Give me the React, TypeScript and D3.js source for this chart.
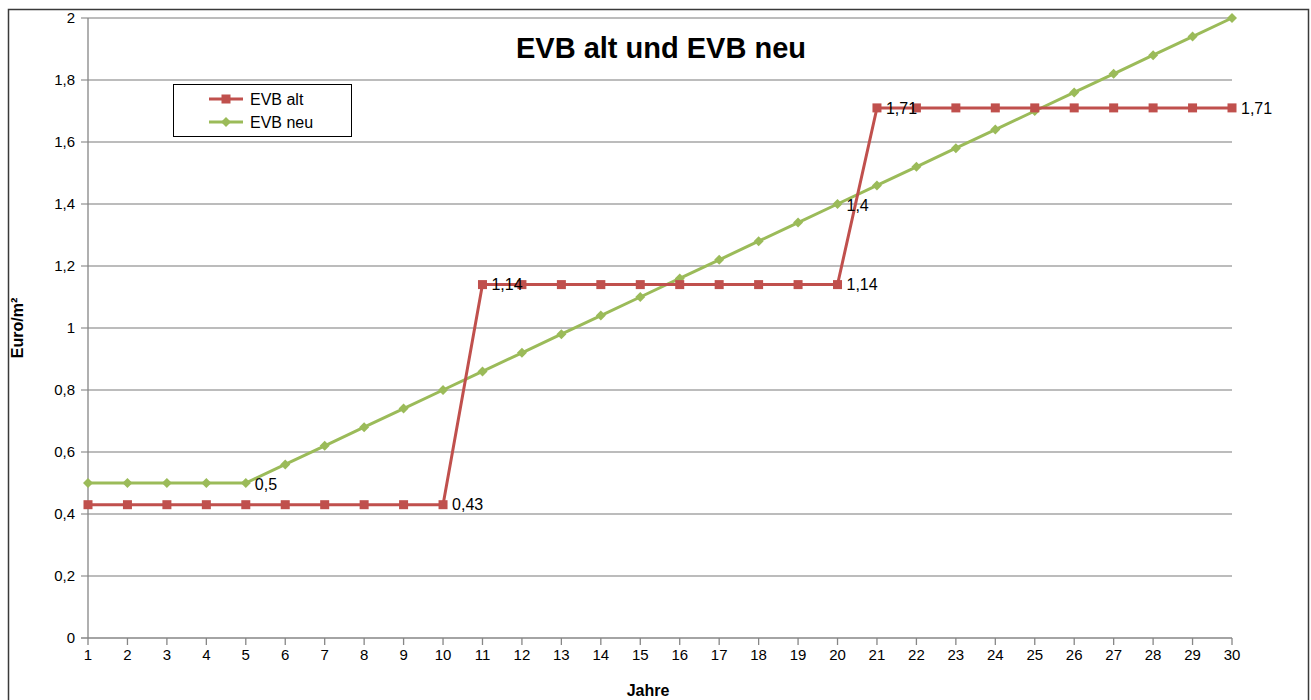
import React from "react";
import * as d3 from "d3";

const years: number[] = [1,2,3,4,5,6,7,8,9,10,11,12,13,14,15,16,17,18,19,20,21,22,23,24,25,26,27,28,29,30];
const evbAlt: number[] = [0.43,0.43,0.43,0.43,0.43,0.43,0.43,0.43,0.43,0.43,1.14,1.14,1.14,1.14,1.14,1.14,1.14,1.14,1.14,1.14,1.71,1.71,1.71,1.71,1.71,1.71,1.71,1.71,1.71,1.71];
const evbNeu: number[] = [0.5,0.5,0.5,0.5,0.5,0.56,0.62,0.68,0.74,0.8,0.86,0.92,0.98,1.04,1.1,1.16,1.22,1.28,1.34,1.4,1.46,1.52,1.58,1.64,1.7,1.76,1.82,1.88,1.94,2.0];
const yTicks: number[] = [0,0.2,0.4,0.6,0.8,1,1.2,1.4,1.6,1.8,2];
const altLabelYears: number[] = [10,11,20,21,30];
const neuLabelYears: number[] = [5,20];
const seriesNames: string[] = ["EVB alt","EVB neu"];
const title = "EVB alt und EVB neu";
const xTitle = "Jahre";
const yTitle = "Euro/m²";

const RED = "#C0504D";
const GREEN = "#9BBB59";
const FONT = "'Liberation Sans', Arial, sans-serif";

export default function App() {
  const W = 1311, H = 700;
  const left = 88, right = 1232, top = 18, bottom = 638;
  const x = d3.scaleLinear().domain([1, 30]).range([left, right]);
  const y = d3.scaleLinear().domain([0, 2]).range([bottom, top]);
  const line = d3.line<number>().x((_, i) => x(years[i])).y(d => y(d));
  const fmt = (v: number) => String(v).replace(".", ",");

  const diamond = (cx: number, cy: number, r: number) =>
    `M${cx},${cy - r}L${cx + r},${cy}L${cx},${cy + r}L${cx - r},${cy}Z`;

  return (
    <svg width={W} height={H} style={{ position: "absolute", left: 0, top: 0 }} fontFamily={FONT}>
      <rect x={0} y={0} width={W} height={H} fill="#fff" />
      <rect x={8.5} y={9.5} width={1300} height={720} fill="none" stroke="#3a3a3a" strokeWidth={1.5} />
      {/* gridlines */}
      {yTicks.map(t => (
        <g key={"g" + t}>
          <line x1={left - 7} x2={right} y1={y(t)} y2={y(t)} stroke={t === 0 ? "#868686" : "#A6A6A6"} strokeWidth={1.3} />
          <text x={left - 13} y={y(t)} dy="0.35em" textAnchor="end" fontSize={15} fill="#000">{fmt(t)}</text>
        </g>
      ))}
      <line x1={left} x2={left} y1={top} y2={bottom} stroke="#868686" strokeWidth={1.3} />
      {years.map(yr => (
        <g key={"x" + yr}>
          <line x1={x(yr)} x2={x(yr)} y1={bottom} y2={bottom + 7} stroke="#868686" strokeWidth={1.3} />
          <text x={x(yr)} y={bottom + 17} dy="0.35em" textAnchor="middle" fontSize={15} fill="#000">{yr}</text>
        </g>
      ))}
      {/* series */}
      <path d={line(evbNeu) || ""} fill="none" stroke={GREEN} strokeWidth={3} />
      {evbNeu.map((v, i) => (
        <path key={"n" + i} d={diamond(x(years[i]), y(v), 5)} fill={GREEN} />
      ))}
      <path d={line(evbAlt) || ""} fill="none" stroke={RED} strokeWidth={3} />
      {evbAlt.map((v, i) => (
        <rect key={"a" + i} x={x(years[i]) - 4.5} y={y(v) - 4.5} width={9} height={9} fill={RED} />
      ))}
      {/* data labels */}
      {altLabelYears.map(yr => (
        <text key={"la" + yr} x={x(yr) + 9} y={y(evbAlt[yr - 1])} dy="0.35em" fontSize={16} fill="#000">{fmt(evbAlt[yr - 1])}</text>
      ))}
      {neuLabelYears.map(yr => (
        <text key={"ln" + yr} x={x(yr) + 9} y={y(evbNeu[yr - 1]) + 1} dy="0.35em" fontSize={16} fill="#000">{fmt(evbNeu[yr - 1])}</text>
      ))}
      {/* title */}
      <text x={661} y={48} dy="0.35em" textAnchor="middle" fontSize={29} fontWeight="bold" fill="#000">{title}</text>
      <text x={648} y={690} dy="0.35em" textAnchor="middle" fontSize={16} fontWeight="bold" fill="#000">{xTitle}</text>
      <text transform={`translate(17,${(top + bottom) / 2}) rotate(-90)`} dy="0.35em" textAnchor="middle" fontSize={16} fontWeight="bold" fill="#000">{yTitle}</text>
      {/* legend */}
      <rect x={173.5} y={84.5} width={178} height={52} fill="#fff" stroke="#000" strokeWidth={1} />
      <line x1={209} x2={243} y1={99} y2={99} stroke={RED} strokeWidth={3} />
      <rect x={221.5} y={94.5} width={9} height={9} fill={RED} />
      <text x={250} y={99} dy="0.35em" fontSize={16} fill="#000">{seriesNames[0]}</text>
      <line x1={209} x2={243} y1={122} y2={122} stroke={GREEN} strokeWidth={3} />
      <path d={diamond(226, 122, 5)} fill={GREEN} />
      <text x={250} y={122} dy="0.35em" fontSize={16} fill="#000">{seriesNames[1]}</text>
    </svg>
  );
}
